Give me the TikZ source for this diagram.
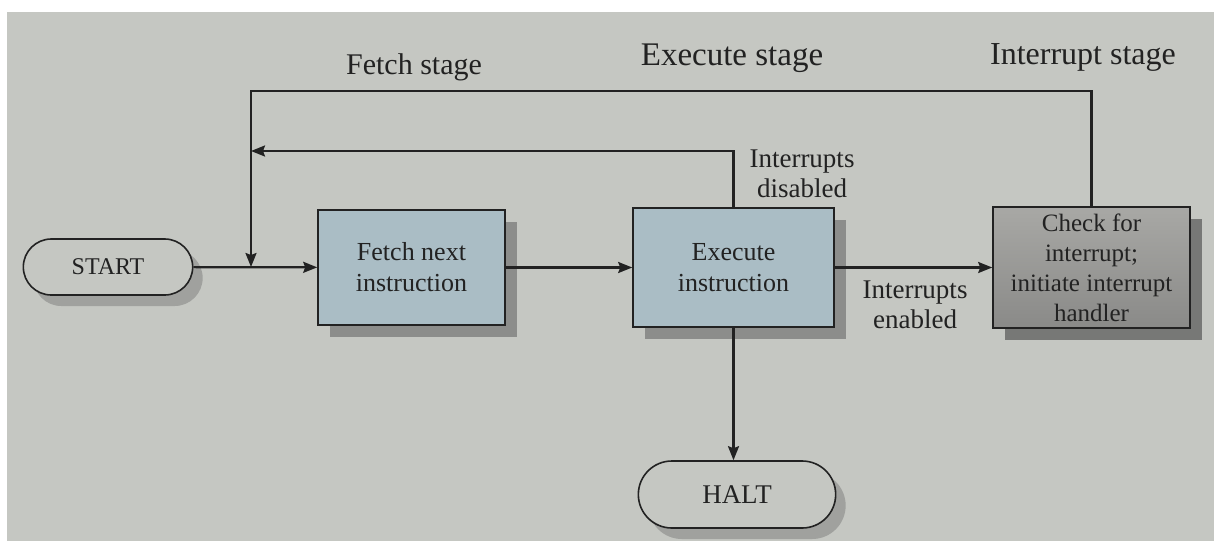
\documentclass[tikz,border=0pt]{standalone}
\usepackage{fontspec}
\setmainfont{Liberation Serif}
\usetikzlibrary{shapes.misc,shadows,arrows.meta}
\definecolor{paper}{RGB}{197,199,194}
\definecolor{ink}{RGB}{34,34,34}
\definecolor{bluebox}{RGB}{170,189,197}
\definecolor{boxshade}{RGB}{140,141,139}
\definecolor{capshade}{RGB}{160,161,158}
\definecolor{graytop}{RGB}{168,168,165}
\definecolor{graybot}{RGB}{138,138,136}
\begin{document}
\begin{tikzpicture}[x=1pt,y=-1pt,
  txt/.style={text=ink,font=\fontsize{#1}{30}\selectfont,align=center,inner sep=0pt},
  txt/.default=27,
  capsule/.style={rounded rectangle,draw=ink,line width=1.6pt,fill=paper,
    text=ink,font=\fontsize{24}{28}\selectfont,
    drop shadow={shadow xshift=10pt,shadow yshift=-11pt,fill=capshade,opacity=1}},
  stepbox/.style={rectangle,draw=ink,line width=1.6pt,fill=bluebox,text=ink,
    align=center,font=\fontsize{26}{31}\selectfont,
    drop shadow={shadow xshift=12pt,shadow yshift=-12pt,fill=boxshade,opacity=1}},
  checkbox/.style={rectangle,draw=ink,line width=1.6pt,top color=graytop,bottom color=graybot,
    text=ink,align=center,font=\fontsize{25}{30}\selectfont,
    drop shadow={shadow xshift=12pt,shadow yshift=-12pt,fill=boxshade!85!black,opacity=1}},
  arr/.style={draw=ink,line width=2.2pt,-{Stealth[length=14pt,width=11pt,inset=2pt]}},
  ln/.style={draw=ink,line width=2.2pt}]
% page
\fill[white] (0,0) rectangle (1214,541);
\useasboundingbox (0,0) rectangle (1214,541);
\fill[paper] (7,12) rectangle (1214,541);

% stage titles
\node[txt=30] (tfetch) at (414,67) {Fetch stage};
\node[txt=33] (texec) at (732,58) {Execute stage};
\node[txt=32] (tint) at (1083,57) {Interrupt stage};

% flow nodes
\node[capsule,minimum width=176pt,minimum height=56pt] (start) at (108,267) {START};
\node[stepbox,minimum width=187pt,minimum height=115pt] (fetch) at (411.5,267.5) {Fetch next\\instruction};
\node[stepbox,minimum width=201pt,minimum height=119pt] (exec) at (733.5,267.5) {Execute\\instruction};
\node[checkbox,minimum width=197pt,minimum height=121pt] (check) at (1091.5,267.5)
  {Check for\\interrupt;\\initiate interrupt\\handler};
\node[capsule,minimum width=204pt,minimum height=67pt,font=\fontsize{27}{30}\selectfont] (halt) at (737,494.5) {HALT};

% branch labels
\node[txt=27] (ldis) at (802,174) {Interrupts\\disabled};
\node[txt=27] (len) at (915,305) {Interrupts\\enabled};

% junction points on the fetch entry line
\coordinate (j) at (251,267);
\coordinate (k) at (251,151);

% main flow
\draw[arr] (start) -- (fetch);
\draw[arr] (fetch) -- (exec);
\draw[arr] (exec) -- (check);
\draw[arr] (exec.south) -- (exec.south |- halt.north);

% return paths
\draw[arr] (check.north) -- ++(0,-115) -| (j);
\draw[arr] (exec.north) |- (k);
\end{tikzpicture}
\end{document}
